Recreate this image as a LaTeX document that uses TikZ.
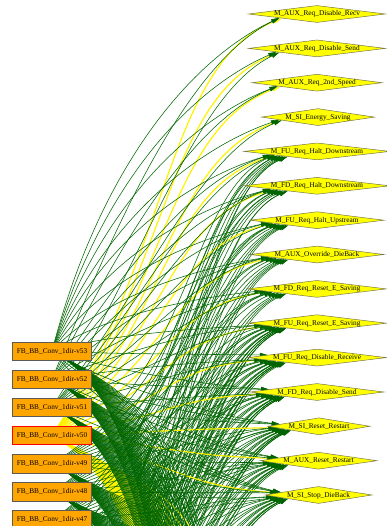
\documentclass[tikz,border=0pt]{standalone}
\usepackage{fontspec}
\setmainfont{Liberation Serif}
\usetikzlibrary{shapes.geometric,arrows.meta}
\pgfdeclarelayer{wires}
\pgfsetlayers{wires,main}
\definecolor{wiregreen}{RGB}{0,100,0}
\definecolor{convfill}{RGB}{255,165,0}
\definecolor{convedge}{RGB}{90,90,90}
\definecolor{msgfill}{RGB}{255,255,0}
\definecolor{msgedge}{RGB}{120,120,70}

% conveyor (#2, centre y #3) to message (#4, centre y #5);
% #6 sideways reach, #7 rise factor, #8 extra run-in before the message
\newcommand\uplink[8]{%
  \pgfmathsetmacro\lkdy{#3-#5}%
  \pgfmathsetmacro\lkay{\lkdy>0 ? -#7*\lkdy : min(0.4*abs(\lkdy),70)}%
  \pgfmathsetmacro\lkbx{-(70+#8+min(0.05*abs(\lkdy),40))}%
  \pgfmathsetmacro\lkby{\lkdy>0 ? min(0.12*\lkdy,45) : max(0.12*\lkdy,-45)}%
  \pgfmathsetmacro\lkang{\lkdy>0 ? 180+min(2+\lkdy/80,10) : 180-min(2-\lkdy/80,10)}%
  \draw[#1] (#2.center) .. controls +(#6,\lkay) and +(\lkbx,\lkby) .. (#4.\lkang);%
}
% conveyor (#2, y #3) down to a point (#4, y #5) below the lower edge
\newcommand\downlink[5]{%
  \pgfmathsetmacro\lkby{-0.5*(#5-#3)}%
  \draw[#1] (#2.center) .. controls +(122,62) and +(-40,\lkby) .. (#4);%
}
% point below the lower edge (#2, y #3) up to message (#4, y #5)
\newcommand\risinglink[5]{%
  \pgfmathsetmacro\lkdy{#3-#5}%
  \pgfmathsetmacro\lkay{-max(69,0.35*\lkdy)}%
  \pgfmathsetmacro\lkbx{-min(70+0.05*\lkdy,110)}%
  \pgfmathsetmacro\lkby{min(0.12*\lkdy,45)}%
  \pgfmathsetmacro\lkang{180+min(2+\lkdy/80,10)}%
  \draw[#1] (#2) .. controls +(113,\lkay) and +(\lkbx,\lkby) .. (#4.\lkang);%
}

\begin{document}
\begin{tikzpicture}[x=1pt,y=-1pt,
  conv/.style={draw=convedge, fill=convfill, line width=0.6pt,
    minimum width=79.4pt, minimum height=18.5pt, inner sep=0pt,
    font=\fontsize{7.3}{8}\selectfont},
  sel/.style={draw=red, line width=1.4pt},
  msg/.style={shape=diamond, aspect=8, draw=msgedge, fill=msgfill,
    line width=0.5pt, inner sep=0pt, text height=4pt, text depth=0pt,
    minimum height=17pt, minimum width=#1, font=\fontsize{7.3}{8}\selectfont},
  flow/.style={wiregreen, line width=0.55pt, -{Triangle[length=8pt,width=4.2pt]}},
  flowfar/.style={wiregreen, line width=0.55pt},
  hot/.style={yellow, line width=1.2pt, -{Triangle[length=8pt,width=4.2pt]}},
  hotfar/.style={yellow, line width=1.2pt},
]
\useasboundingbox (0,0) rectangle (386,526);

% conveyor sections
\node[conv] (s0) at (52,351.2) {FB\_BB\_Conv\_1dir-v53};
\node[conv] (s1) at (52,379.3) {FB\_BB\_Conv\_1dir-v52};
\node[conv] (s2) at (52,407.4) {FB\_BB\_Conv\_1dir-v51};
\node[conv,sel] (s3) at (52,435.5) {FB\_BB\_Conv\_1dir-v50};
\node[conv] (s4) at (52,463.6) {FB\_BB\_Conv\_1dir-v49};
\node[conv] (s5) at (52,491.7) {FB\_BB\_Conv\_1dir-v48};
\node[conv] (s6) at (52,519.8) {FB\_BB\_Conv\_1dir-v47};

% messages
\node[msg=137pt] (t0) at (317,14) {M\_AUX\_Req\_Disable\_Recv};
\node[msg=137pt] (t1) at (317,48.4) {M\_AUX\_Req\_Disable\_Send};
\node[msg=130pt] (t2) at (317,82.7) {M\_AUX\_Req\_2nd\_Speed};
\node[msg=113pt] (t3) at (318,117.1) {M\_SI\_Energy\_Saving};
\node[msg=146pt] (t4) at (317,151.4) {M\_FU\_Req\_Halt\_Downstream};
\node[msg=146pt] (t5) at (317,185.8) {M\_FD\_Req\_Halt\_Downstream};
\node[msg=134pt] (t6) at (317,220.2) {M\_FU\_Req\_Halt\_Upstream};
\node[msg=134pt] (t7) at (317,254.5) {M\_AUX\_Override\_DieBack};
\node[msg=139pt] (t8) at (317,288.9) {M\_FD\_Req\_Reset\_E\_Saving};
\node[msg=139pt] (t9) at (317,323.2) {M\_FU\_Req\_Reset\_E\_Saving};
\node[msg=139pt] (t10) at (317,357.6) {M\_FU\_Req\_Disable\_Receive};
\node[msg=134pt] (t11) at (317,392) {M\_FD\_Req\_Disable\_Send};
\node[msg=102pt] (t12) at (319,426.3) {M\_SI\_Reset\_Restart};
\node[msg=117pt] (t13) at (318.5,460.7) {M\_AUX\_Reset\_Restart};
\node[msg=107pt] (t14) at (318.5,495) {M\_SI\_Stop\_DieBack};

% where the graph continues below the lower edge
\foreach \n in {0,...,14} \coordinate (g\n) at (52,548+28.1*\n);
\foreach \m in {0,...,27} \coordinate (f\m) at (212,560+20*\m);

\begin{pgfonlayer}{wires}
\clip (0,0) rectangle (386,526);
% links rising from sections further down
\foreach \n in {0,...,14}{
  \foreach \j in {4,...,14}{
    \pgfmathtruncatemacro\keep{\j>=9 ? 1 : (mod(\n+\j,3)==0 ? 1 : 0)}
    \ifnum\keep=1
      \pgfmathsetmacro\yt{14+34.36*\j}
      \risinglink{flow}{g\n}{548+28.1*\n}{t\j}{\yt}
    \fi
  }
}
% the selected section
\foreach \j in {0,...,14}{
  \pgfmathsetmacro\yt{14+34.36*\j}
  \uplink{hot}{s3}{435.5}{t\j}{\yt}{118}{0.42}{25}
}
\foreach \m in {0,...,27}{\downlink{hotfar}{s3}{435.5}{f\m}{560+20*\m}}
% the other sections
\foreach \k in {0,1,2,4,5,6}{
  \pgfmathsetmacro\ys{351.2+28.1*\k}
  \pgfmathsetmacro\xa{min(48+23*\k,138)}
  \pgfmathsetmacro\rise{max(0.55-0.073*\k,0.25)}
  \foreach \j in {0,...,14}{
    \pgfmathtruncatemacro\keep{\j>=4 ? 1 : (\k==0 ? 1 : (\k==1+mod(\j,2) ? 1 : 0))}
    \ifnum\keep=1
      \pgfmathsetmacro\yt{14+34.36*\j}
      \uplink{flow}{s\k}{\ys}{t\j}{\yt}{\xa}{\rise}{0}
    \fi
  }
  \foreach \m in {0,...,27}{\downlink{flowfar}{s\k}{\ys}{f\m}{560+20*\m}}
}
\end{pgfonlayer}
\end{tikzpicture}
\end{document}
